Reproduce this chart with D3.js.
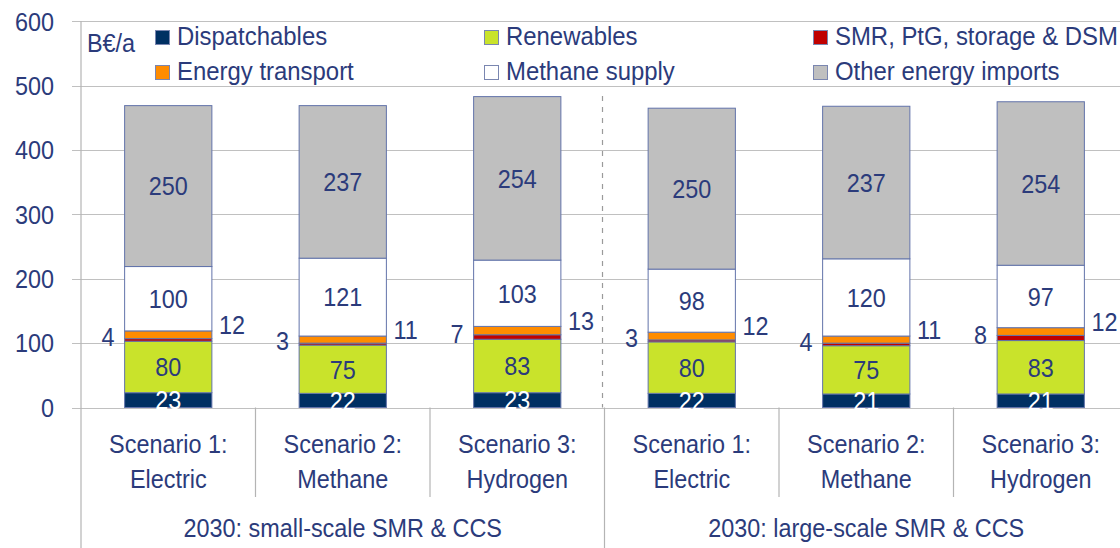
<!DOCTYPE html>
<html>
<head>
<meta charset="utf-8">
<script src="https://cdn.jsdelivr.net/npm/d3@7"></script>
<style>
  html, body { margin: 0; padding: 0; background: #fff; }
  svg { display: block; font-family: "Liberation Sans", Arial, sans-serif; }
</style>
</head>
<body>
<svg id="chart" width="1120" height="548"></svg>
<script>
// Annual system cost by component, B€/a
const scenarios = ["Scenario 1:|Electric", "Scenario 2:|Methane", "Scenario 3:|Hydrogen",
                   "Scenario 1:|Electric", "Scenario 2:|Methane", "Scenario 3:|Hydrogen"];
const groups = ["2030: small-scale SMR & CCS", "2030: large-scale SMR & CCS"];
const seriesNames = ["Dispatchables", "Renewables", "SMR, PtG, storage & DSM",
                     "Energy transport", "Methane supply", "Other energy imports"];
const dispatchables   = [23, 22, 23, 22, 21, 21];
const renewables      = [80, 75, 83, 80, 75, 83];
const smrPtgStorage   = [4, 3, 7, 3, 4, 8];
const energyTransport = [12, 11, 13, 12, 11, 12];
const methaneSupply   = [100, 121, 103, 98, 120, 97];
const otherImports    = [250, 237, 254, 250, 237, 254];
const yTicks = [0, 100, 200, 300, 400, 500, 600];
const unitLabel = "B€/a";

const colors = ["#003063", "#c9e32b", "#c00000", "#ff8c00", "#ffffff", "#bfbfbf"];
const textColor = "#2b3b7b";
const fontSize = 26;
const squeeze = 0.9;        // condensed look for all text
const legendSqueeze = 0.92;

const svg = d3.select("#chart");

// text drawn with a horizontal squeeze around its anchor point
function label(parent, x, y, str, opts = {}) {
  const t = parent.append("text")
    .attr("transform", `translate(${x},${y}) scale(${opts.sx || squeeze},1)`)
    .attr("font-size", fontSize)
    .attr("fill", opts.fill || textColor)
    .attr("text-anchor", opts.anchor || "start")
    .text(str);
  if (opts.dy) t.attr("dy", opts.dy);
  return t;
}

const y = d3.scaleLinear().domain([0, 600]).range([407.5, 21.3]);
const x = d3.scaleBand().domain(d3.range(scenarios.length))
  .range([81, 1128]).paddingInner(0.5).paddingOuter(0.25);
const step = x.step();
const catLeft = i => x(i) - step * 0.25;

// horizontal gridlines with outside tick stubs
svg.append("g").selectAll("line").data(yTicks).join("line")
  .attr("x1", 72).attr("x2", 1120)
  .attr("y1", d => Math.round(y(d)) + 0.5).attr("y2", d => Math.round(y(d)) + 0.5)
  .attr("stroke", "#c0c0c0").attr("stroke-width", 1.2);

// value axis labels
const yLab = svg.append("g");
yTicks.forEach(d => label(yLab, 54, y(d), d, { anchor: "end", dy: "0.36em" }));

// stack the components
const rows = scenarios.map((s, i) => ({
  i,
  v: [dispatchables[i], renewables[i], smrPtgStorage[i], energyTransport[i], methaneSupply[i], otherImports[i]]
}));
const stack = d3.stack().keys(d3.range(6)).value((d, k) => d.v[k]);
const layers = stack(rows);

// vertical axis line and category separators
const axisG = svg.append("g").attr("stroke", "#b4b4b4").attr("stroke-width", 1.2);
axisG.append("line").attr("x1", 81).attr("x2", 81).attr("y1", y(600)).attr("y2", 548);
d3.range(1, scenarios.length + 1).forEach(k => {
  const xx = k === scenarios.length ? 1128 : catLeft(k);
  const outer = (k % 3 === 0);
  axisG.append("line").attr("x1", xx).attr("x2", xx)
    .attr("y1", y(0)).attr("y2", outer ? 548 : 497);
});

// dashed divider between the two groups
svg.append("line")
  .attr("x1", catLeft(3) - 2).attr("x2", catLeft(3) - 2)
  .attr("y1", 96).attr("y2", y(0))
  .attr("stroke", "#9a9a9a").attr("stroke-width", 1.2)
  .attr("stroke-dasharray", "5,6");

// stacked bars
const barG = svg.append("g");
layers.forEach((layer, k) => {
  barG.append("g").selectAll("rect").data(layer).join("rect")
    .attr("x", d => x(d.data.i))
    .attr("width", x.bandwidth())
    .attr("y", d => y(d[1]))
    .attr("height", d => y(d[0]) - y(d[1]))
    .attr("fill", colors[k])
    .attr("stroke", "#6273aa").attr("stroke-width", 1);
});

// data labels
const labelG = svg.append("g");
layers.forEach((layer, k) => {
  layer.forEach(d => {
    const i = d.data.i;
    const val = d.data.v[k];
    const mid = y((d[0] + d[1]) / 2);
    let tx = x(i) + x.bandwidth() / 2, ty = mid, anchor = "middle", fill = textColor;
    if (k === 0) fill = "#ffffff";
    if (k === 2) { tx = x(i) - 10; anchor = "end"; ty = mid - 3; }
    if (k === 3) { tx = x(i) + x.bandwidth() + 7; anchor = "start"; ty = mid - 10; }
    label(labelG, tx, ty, val, { anchor, fill, dy: "0.36em" });
  });
});

// category labels (two lines)
const catG = svg.append("g");
scenarios.forEach((s, i) => {
  const [l1, l2] = s.split("|");
  const cx = x(i) + x.bandwidth() / 2;
  label(catG, cx, 453, l1, { anchor: "middle" });
  label(catG, cx, 488, l2, { anchor: "middle" });
});

// group labels
groups.forEach((g, j) => {
  const cx = (catLeft(j * 3) + (j === 0 ? catLeft(3) : 1128)) / 2;
  label(catG, cx, 537, g, { anchor: "middle" });
});

// unit label
label(svg, 87, 52, unitLabel);

// legend
const legendPos = [[155, 0], [484, 0], [813, 0], [155, 1], [484, 1], [813, 1]];
const legG = svg.append("g");
seriesNames.forEach((name, k) => {
  const [lx, row] = legendPos[k];
  const base = row === 0 ? 45 : 80;
  legG.append("rect").attr("x", lx + 0.5).attr("y", base - 14.5)
    .attr("width", 14).attr("height", 14)
    .attr("fill", colors[k]).attr("stroke", "#7a86b0").attr("stroke-width", 1);
  label(legG, lx + 22, base, name, { sx: legendSqueeze });
});
</script>
</body>
</html>
